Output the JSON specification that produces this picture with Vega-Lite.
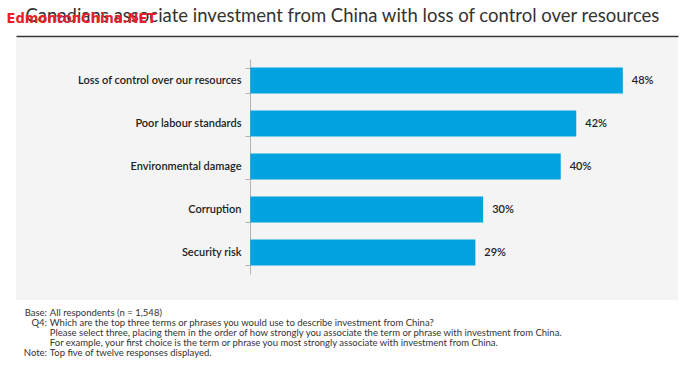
{
  "$schema": "https://vega.github.io/schema/vega-lite/v6.json",
  "width": 662,
  "height": 262,
  "autosize": {"type": "none"},
  "padding": {"left": 16, "top": 38, "right": 22, "bottom": 68},
  "background": "white",
  "view": {"fill": "#f4f4f4", "stroke": null},
  "config": {"font": "Lato"},
  "data": {
    "values": [
      {"item": "Loss of control over our resources", "share": 0.48},
      {"item": "Poor labour standards", "share": 0.42},
      {"item": "Environmental damage", "share": 0.40},
      {"item": "Corruption", "share": 0.30},
      {"item": "Security risk", "share": 0.29}
    ]
  },
  "layer": [
    {
      "mark": {"type": "bar", "color": "#00a3e0"},
      "encoding": {
        "y": {
          "field": "item",
          "type": "nominal",
          "sort": null,
          "scale": {"range": [21, 236], "paddingInner": 0.4, "paddingOuter": 0.2},
          "axis": {
            "orient": "left",
            "offset": -234,
            "domain": true,
            "domainColor": "#b3b3b3",
            "domainWidth": 1,
            "ticks": true,
            "tickBand": "extent",
            "tickSize": 5,
            "tickColor": "#b3b3b3",
            "labelFont": "Lato",
            "labelFontSize": 11,
            "labelFontWeight": 600,
            "labelColor": "#222222",
            "labelPadding": 4,
            "labelLimit": 300,
            "grid": false,
            "title": ["Base:", "Q4:", "\u200b", "\u200b\u200b", "Note:"],
            "titleAngle": 0,
            "titleAlign": "right",
            "titleBaseline": "alphabetic",
            "titleX": -203.5,
            "titleY": 277,
            "titleFont": "Lato",
            "titleFontSize": 9.5,
            "titleFontWeight": "normal",
            "titleColor": "#333333",
            "titleLineHeight": 10
          }
        },
        "x": {
          "field": "share",
          "type": "quantitative",
          "scale": {"domain": [-0.3019, 0.5511], "nice": false, "zero": false},
          "axis": {
            "orient": "top",
            "offset": 2,
            "domain": true,
            "domainColor": "#333333",
            "domainWidth": 1.5,
            "ticks": false,
            "labels": false,
            "grid": false,
            "title": "Canadians associate investment from China with loss of control over resources",
            "titleAnchor": "start",
            "titleAlign": "left",
            "titleBaseline": "alphabetic",
            "titleX": 9,
            "titleY": -14.5,
            "titleFont": "Lato",
            "titleFontSize": 18.5,
            "titleFontWeight": "normal",
            "titleColor": "#333333"
          }
        }
      }
    },
    {
      "mark": {"type": "text", "align": "left", "baseline": "middle", "dx": 9, "font": "Lato", "fontSize": 11, "fontWeight": 600, "color": "#222222"},
      "encoding": {
        "y": {
          "field": "item",
          "type": "nominal",
          "sort": null,
          "axis": {
            "orient": "left",
            "domain": false,
            "ticks": false,
            "labels": false,
            "grid": false,
            "title": "EdmontonChina.NET",
            "titleAngle": 0,
            "titleAlign": "left",
            "titleBaseline": "alphabetic",
            "titleX": -10,
            "titleY": -15.3,
            "titleFont": "DejaVu Sans Condensed",
            "titleFontSize": 14.5,
            "titleFontWeight": "bold",
            "titleColor": "#e8202a"
          }
        },
        "x": {
          "field": "share",
          "type": "quantitative",
          "axis": {
            "orient": "bottom",
            "domain": false,
            "ticks": false,
            "labels": false,
            "grid": false,
            "title": [
              "All respondents (n = 1,548)",
              "Which are the top three terms or phrases you would use to describe investment from China?",
              "Please select three, placing them in the order of how strongly you associate the term or phrase with investment from China.",
              "For example, your first choice is the term or phrase you most strongly associate with investment from China.",
              "Top five of twelve responses displayed."
            ],
            "titleAnchor": "start",
            "titleAlign": "left",
            "titleBaseline": "alphabetic",
            "titleX": 33.3,
            "titleY": 15,
            "titleFont": "Lato",
            "titleFontSize": 9.5,
            "titleFontWeight": "normal",
            "titleColor": "#333333",
            "titleLineHeight": 10
          }
        },
        "text": {"field": "share", "type": "quantitative", "format": ".0%"}
      }
    }
  ],
  "resolve": {"axis": {"x": "independent", "y": "independent"}}
}
